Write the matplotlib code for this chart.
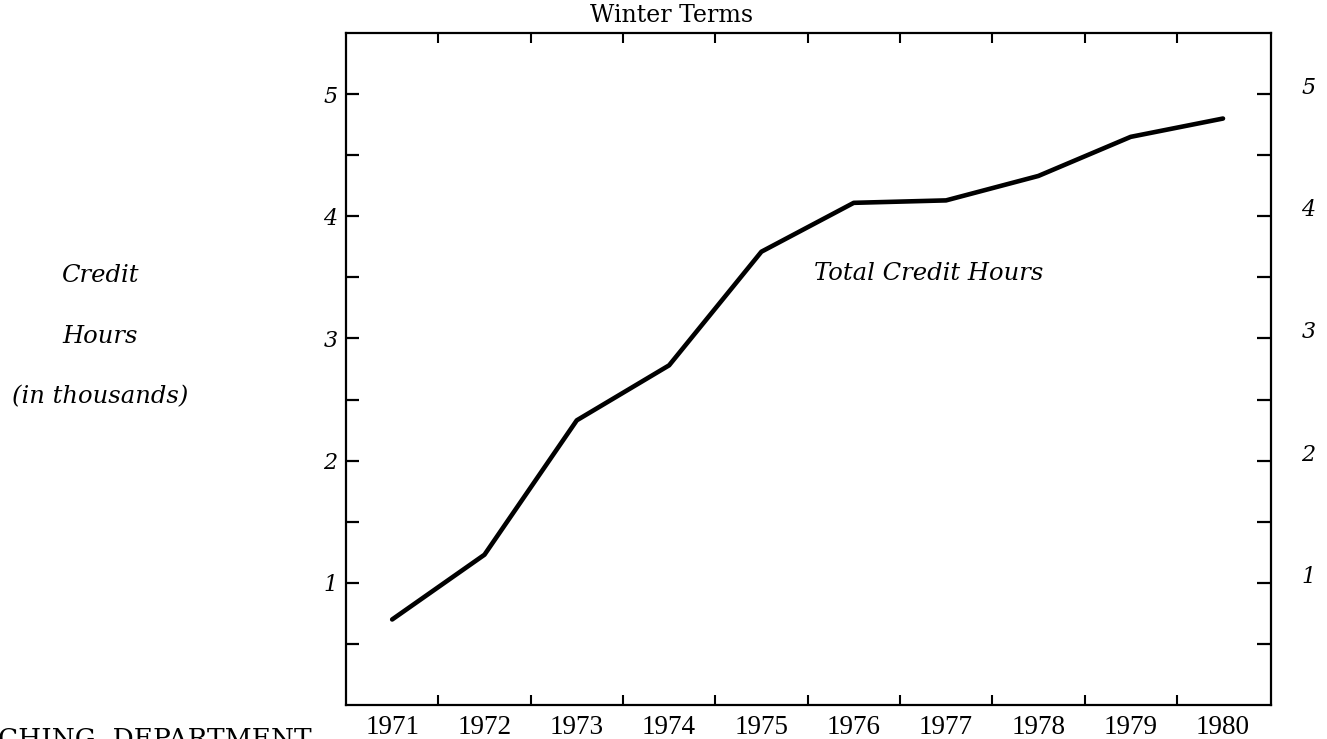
import matplotlib
matplotlib.use("Agg")
import matplotlib.pyplot as plt
from matplotlib.ticker import FixedLocator, NullFormatter

# Winter-term credit hours, in thousands
years = [1971, 1972, 1973, 1974, 1975, 1976, 1977, 1978, 1979, 1980]
credit_hours = [0.70, 1.23, 2.33, 2.78, 3.71, 4.11, 4.13, 4.33, 4.65, 4.80]
y_labels = ["1", "2", "3", "4", "5"]
y_major = [1, 2, 3, 4, 5]
y_minor = [0.5, 1.5, 2.5, 3.5, 4.5]

W, H = 1327, 739
fig = plt.figure(figsize=(W / 100, H / 100), dpi=100)
fig.patch.set_facecolor("white")

left, right, bottom, top = 346, 1271, 705, 33
ax = fig.add_axes([left / W, 1 - bottom / H, (right - left) / W, (bottom - top) / H])

ax.plot(years, credit_hours, color="black", lw=3.3, solid_capstyle="round",
        solid_joinstyle="round")

ax.set_xlim(1970.5, 1980.52)
ax.set_ylim(0, 5.5)

for sp in ax.spines.values():
    sp.set_linewidth(1.6)

# x axis: tick marks between years, year labels under each year
half_years = [y + 0.5 for y in years[:-1]]
ax.xaxis.set_major_locator(FixedLocator(half_years))
ax.xaxis.set_major_formatter(NullFormatter())
ax.xaxis.set_minor_locator(FixedLocator(years))
ax.set_xticklabels([str(y) for y in years], minor=True,
                   fontfamily="Liberation Serif", fontsize=19.5)
ax.tick_params(axis="x", which="major", direction="in", length=7, width=1.5,
               top=True, bottom=True)
ax.tick_params(axis="x", which="minor", length=0, pad=7)

# y axis: labelled whole thousands, unlabelled halves
ax.yaxis.set_major_locator(FixedLocator(y_major))
ax.yaxis.set_minor_locator(FixedLocator(y_minor))
ax.set_yticklabels(y_labels, fontfamily="DejaVu Serif", fontstyle="italic",
                   fontsize=16)
ax.tick_params(axis="y", which="both", direction="in", length=9, width=1.6,
               left=True, right=False, pad=6)

axr = ax.twinx()
axr.set_ylim(ax.get_ylim())
axr.yaxis.set_major_locator(FixedLocator(y_major))
axr.yaxis.set_minor_locator(FixedLocator(y_minor))
axr.set_yticklabels(y_labels, fontfamily="DejaVu Serif", fontstyle="italic",
                    fontsize=16, va="baseline")
axr.tick_params(axis="y", which="both", direction="in", length=10, width=1.6,
                pad=22)
for sp in axr.spines.values():
    sp.set_visible(False)

# annotations
ax.text(1976.81, 3.53, "Total Credit Hours", fontfamily="DejaVu Serif",
        fontstyle="italic", fontsize=17.5, ha="center", va="center")

fig.text(672 / W, 1 - 15 / H, "Winter Terms", fontfamily="DejaVu Serif",
         fontsize=17, ha="center", va="center")

for txt, yc in [("Credit", 275), ("Hours", 337), ("(in thousands)", 397)]:
    fig.text(100 / W, 1 - yc / H, txt, fontfamily="DejaVu Serif",
             fontstyle="italic", fontsize=17.5, ha="center", va="center")

fig.text(-2 / W, 1 - 747 / H, "CHING  DEPARTMENT", fontfamily="DejaVu Serif",
         fontsize=19, ha="left", va="baseline")

fig.savefig("out.png", dpi=100, facecolor="white")
